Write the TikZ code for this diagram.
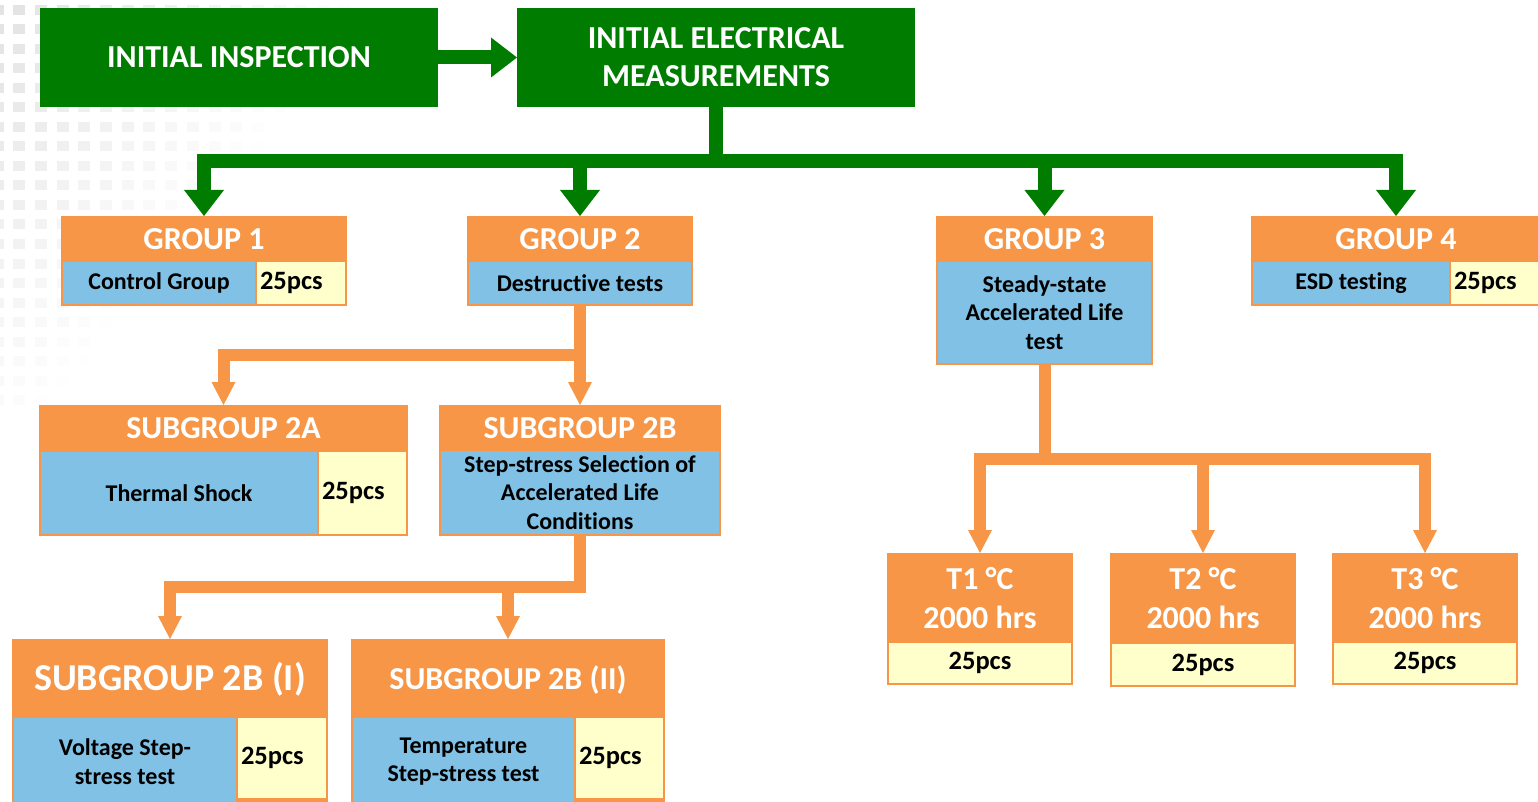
\documentclass[tikz,border=0pt]{standalone}
\usepackage{fontspec}
\setmainfont{Carlito}[Ligatures=CommonOff]
\usetikzlibrary{arrows.meta}
\definecolor{grn}{RGB}{0,125,0}
\definecolor{org}{RGB}{247,150,70}
\definecolor{blu}{RGB}{128,193,229}
\definecolor{ylw}{RGB}{255,255,204}
\newcommand\FntGreen{\fontsize{32pt}{38pt}\selectfont\bfseries}
\newcommand\FntHead{\fontsize{32pt}{39pt}\selectfont\bfseries}
\newcommand\FntHeadBig{\fontsize{38pt}{40pt}\selectfont\bfseries}
\newcommand\FntBody{\fontsize{24pt}{28.5pt}\selectfont\bfseries}
\newcommand\FntPcs{\fontsize{26.5pt}{28pt}\selectfont\bfseries}
\begin{document}
\begin{tikzpicture}[x=1pt,y=-1pt,
  frame/.style={fill=org, inner sep=0pt, outer sep=0pt, anchor=north west},
  gbox/.style={fill=grn, text=white, inner sep=0pt, outer sep=0pt, anchor=north west, align=center, font=\FntGreen},
  headtxt/.style={text=white, inner sep=0pt, outer sep=0pt, font=\FntHead, align=center},
  cell/.style={inner sep=0pt, outer sep=0pt, anchor=north west, align=center, font=\FntBody},
  bcell/.style={cell, fill=blu},
  ycell/.style={cell, fill=ylw, font=\FntPcs},
  ycl/.style={ycell, inner xsep=3pt, align=left},
  gline/.style={draw=grn, line width=14pt, line join=miter, -{Triangle[width=40pt,length=26pt,line width=0pt]}},
  oline/.style={draw=org, line width=12pt, line join=miter, -{Triangle[width=24pt,length=23pt,line width=0pt]}}
]
\useasboundingbox (0,0) rectangle (1538,802);
\clip (0,0) rectangle (1538,802);
% background pattern
\foreach \i in {0,...,17}{
  \foreach \j in {0,...,20}{
    \pgfmathsetmacro\xx{-8.5+21.7*\i}
    \pgfmathsetmacro\yy{5+19.5*\j}
    \pgfmathsetmacro\op{min(1,max(0,1-\xx/380-\yy/460))}
    \fill[black!11, opacity=\op] (\xx,\yy) rectangle ++(12,10);
  }
}
% green boxes
\node[gbox, minimum width=398pt, minimum height=99pt] (ii) at (40,8) {INITIAL INSPECTION};
\node[gbox, minimum width=398pt, minimum height=99pt] (iem) at (517,8) {INITIAL ELECTRICAL\\MEASUREMENTS};
% group 1
\node[frame, minimum width=286pt, minimum height=90pt] (g1) at (61,216) {};
\node[headtxt] (g1h) at (204,239) {GROUP 1};
\node[bcell, minimum width=192pt, minimum height=42pt] (g1d) at (63,262) {Control Group};
\node[ycl, text width=82pt, minimum height=42pt] (g1n) at (257,262) {25pcs};
% group 2
\node[frame, minimum width=226pt, minimum height=90pt] (g2) at (467,216) {};
\node[headtxt] (g2h) at (580,239) {GROUP 2};
\node[bcell, minimum width=222pt, minimum height=42pt] (g2d) at (469,262) {Destructive tests};
% group 3
\node[frame, minimum width=217pt, minimum height=149pt] (g3) at (936,216) {};
\node[headtxt] (g3h) at (1044.5,239) {GROUP 3};
\node[bcell, minimum width=213pt, minimum height=101pt] (g3d) at (938,262) {Steady-state\\Accelerated Life\\test};
% group 4
\node[frame, minimum width=290pt, minimum height=90pt] (g4) at (1251,216) {};
\node[headtxt] (g4h) at (1396,239) {GROUP 4};
\node[bcell, minimum width=196pt, minimum height=42pt] (g4d) at (1253,262) {ESD testing};
\node[ycl, text width=86pt, minimum height=42pt] (g4n) at (1451,262) {25pcs};
% subgroup 2A
\node[frame, minimum width=369pt, minimum height=131pt] (s2a) at (39,405) {};
\node[headtxt] (s2ah) at (223.5,428) {SUBGROUP 2A};
\node[bcell, minimum width=276pt, minimum height=82pt] (s2ad) at (41,452) {Thermal Shock};
\node[ycl, text width=81pt, minimum height=82pt] (s2an) at (319,452) {25pcs};
% subgroup 2B
\node[frame, minimum width=282pt, minimum height=131pt] (s2b) at (439,405) {};
\node[headtxt] (s2bh) at (580,428) {SUBGROUP 2B};
\node[bcell, minimum width=278pt, minimum height=83pt] (s2bd) at (441,451) {Step-stress Selection of\\Accelerated Life\\Conditions};
% subgroup 2B (I)
\node[frame, minimum width=316pt, minimum height=180pt] (s2bi) at (12,639) {};
\node[headtxt, font=\FntHeadBig] (s2bih) at (170,679) {SUBGROUP 2B (I)};
\node[bcell, minimum width=222pt, minimum height=87pt] (s2bid) at (14,718) {Voltage Step-\\stress test};
\node[ycl, text width=82pt, minimum height=80pt] (s2bin) at (238,718) {25pcs};
% subgroup 2B (II)
\node[frame, minimum width=314pt, minimum height=180pt] (s2bii) at (351,639) {};
\node[headtxt] (s2biih) at (508,680) {SUBGROUP 2B (II)};
\node[bcell, minimum width=221pt, minimum height=87pt] (s2biid) at (353,718) {Temperature\\Step-stress test};
\node[ycl, text width=81pt, minimum height=80pt] (s2biin) at (576,718) {25pcs};
% T boxes
\node[frame, minimum width=186pt, minimum height=132pt] (t1) at (887,553) {};
\node[headtxt] (t1h) at (980,598) {T1 °C\\2000 hrs};
\node[ycell, minimum width=182pt, minimum height=40pt] (t1n) at (889,643) {25pcs};
\node[frame, minimum width=186pt, minimum height=134pt] (t2) at (1110,553) {};
\node[headtxt] (t2h) at (1203,598) {T2 °C\\2000 hrs};
\node[ycell, minimum width=182pt, minimum height=41pt] (t2n) at (1112,644) {25pcs};
\node[frame, minimum width=186pt, minimum height=132pt] (t3) at (1332,553) {};
\node[headtxt] (t3h) at (1425,598) {T3 °C\\2000 hrs};
\node[ycell, minimum width=182pt, minimum height=40pt] (t3n) at (1334,643) {25pcs};
% green connectors
\draw[gline] (ii) -- (iem);
\draw[gline] (iem.south) -- ++(0,54.5) -| (g1.north);
\draw[gline] (iem.south) -- ++(0,54.5) -| (g2.north);
\draw[gline] (iem.south) -- ++(0,54.5) -| (g3.north);
\draw[gline] (iem.south) -- ++(0,54.5) -| (g4.north);
% orange connectors
\draw[oline] (g2.south) -- ++(0,49) -| (s2a.north);
\draw[oline] (g2.south) -- (s2b.north);
\draw[oline] (s2b.south) -- ++(0,51) -| (s2bi.north);
\draw[oline] (s2b.south) -- ++(0,51) -| (s2bii.north);
\draw[oline] (g3.south) -- ++(0,94) -| (t1.north);
\draw[oline] (g3.south) -- ++(0,94) -| (t2.north);
\draw[oline] (g3.south) -- ++(0,94) -| (t3.north);
\end{tikzpicture}
\end{document}
